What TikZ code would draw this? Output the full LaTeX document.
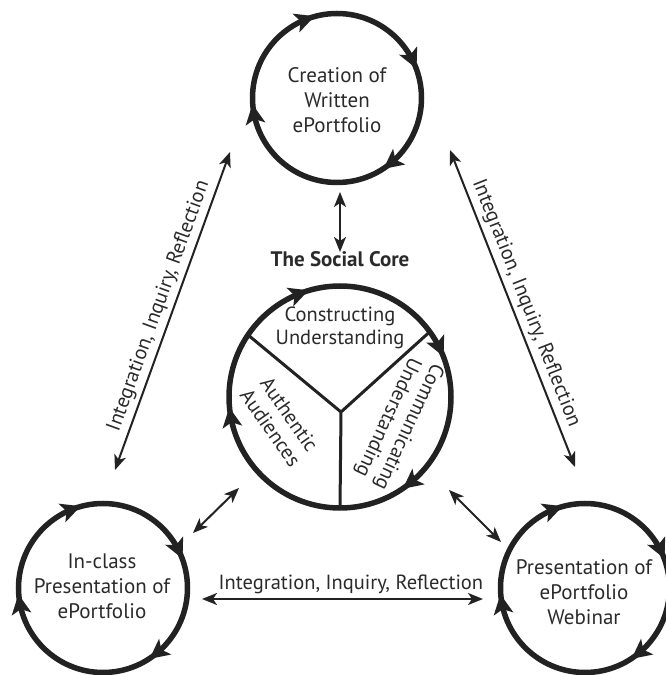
\documentclass[tikz,border=0pt]{standalone}
\usepackage{fontspec}
\setmainfont{PT Sans}
\usetikzlibrary{arrows.meta}
\definecolor{ink}{HTML}{222222}
\definecolor{txt}{HTML}{2a2a2a}
\begin{document}
\begin{tikzpicture}[x=1pt,y=1pt,
  ring/.style={circle, draw=ink, line width=5.5pt, outer sep=0pt, inner sep=0pt,
    minimum size=169pt},
  rtext/.style={font=\fontsize{21}{25}\selectfont, text=txt, align=center, inner sep=0pt},
  corering/.style={circle, draw=ink, line width=5.5pt, outer sep=0pt, inner sep=0pt,
    minimum size=222pt},
  ctext/.style={font=\fontsize{20.5}{23}\selectfont, text=txt, align=center, inner sep=0pt},
  con/.style={draw=ink, line width=2pt,
    {Stealth[length=15pt,width=12pt,inset=4pt]}-{Stealth[length=15pt,width=12pt,inset=4pt]}},
  lab/.style={font=\fontsize{20.5}{24}\selectfont, text=txt, sloped, above, inner sep=4pt},
  cwhead/.pic={\fill[ink] (7,0) -- (-13,10) -- (-8,0) -- (-13,-10) -- cycle;}
  ]
\useasboundingbox (0,0) rectangle (665,675);
% circles
\node[ring] (cw) at (337,577) {};
\node[ring] (ic) at (103,87) {};
\node[ring] (pw) at (585,87) {};
\node[corering] (core) at (340,278) {};
\node[rtext] (cwt) at (337,574.5) {Creation of\\Written\\ePortfolio};
\node[rtext] (ict) at (102,88.5) {In-class\\Presentation of\\ePortfolio};
\node[rtext] (pwt) at (584,83) {Presentation of\\ePortfolio\\Webinar};
% Y spokes
\coordinate (yc) at (341,263);
\draw[ink, line width=3pt] (core.146) -- (yc) -- (core.36) (yc) -- (core.270);
% circulating arrowheads
\foreach \n in {cw,ic,pw,core}
  \foreach \a in {110,25,-52,189}
    \pic[rotate=\a-90] at (\n.\a) {cwhead};
% core texts
\node[font=\bfseries\fontsize{21}{24}\selectfont, text=txt, anchor=base] (title) at (340,408) {The Social Core};
\node[ctext] (cu) at (340,347) {Constructing\\Understanding};
\node[ctext, rotate=-55] (aa) at (280,254) {Authentic\\Audiences};
\node[ctext, rotate=-115] (cm) at (398,253) {Communicating\\Understanding};
% connector end points
\coordinate (a1) at (115,205);
\coordinate (a2) at (230,523);
\coordinate (b1) at (450,525);
\coordinate (b2) at (575,208);
\coordinate (h1) at (202,76);
\coordinate (h2) at (483,76);
\coordinate (v1) at (340,483);
\coordinate (v2) at (340,423);
\coordinate (s1) at (193,142);
\coordinate (s2) at (239,187);
\coordinate (t1) at (449,185);
\coordinate (t2) at (501,133);
% connectors
\draw[con] (a1) -- node[lab, pos=0.5] (la) {Integration, Inquiry, Reflection} (a2);
\draw[con] (b1) -- node[lab, pos=0.5] (lb) {Integration, Inquiry, Reflection} (b2);
\draw[con] (h1) -- node[lab, pos=0.53] (lh) {Integration, Inquiry, Reflection} (h2);
\draw[con] (v1) -- (v2);
\draw[con] (s1) -- (s2);
\draw[con] (t1) -- (t2);
\end{tikzpicture}
\end{document}
